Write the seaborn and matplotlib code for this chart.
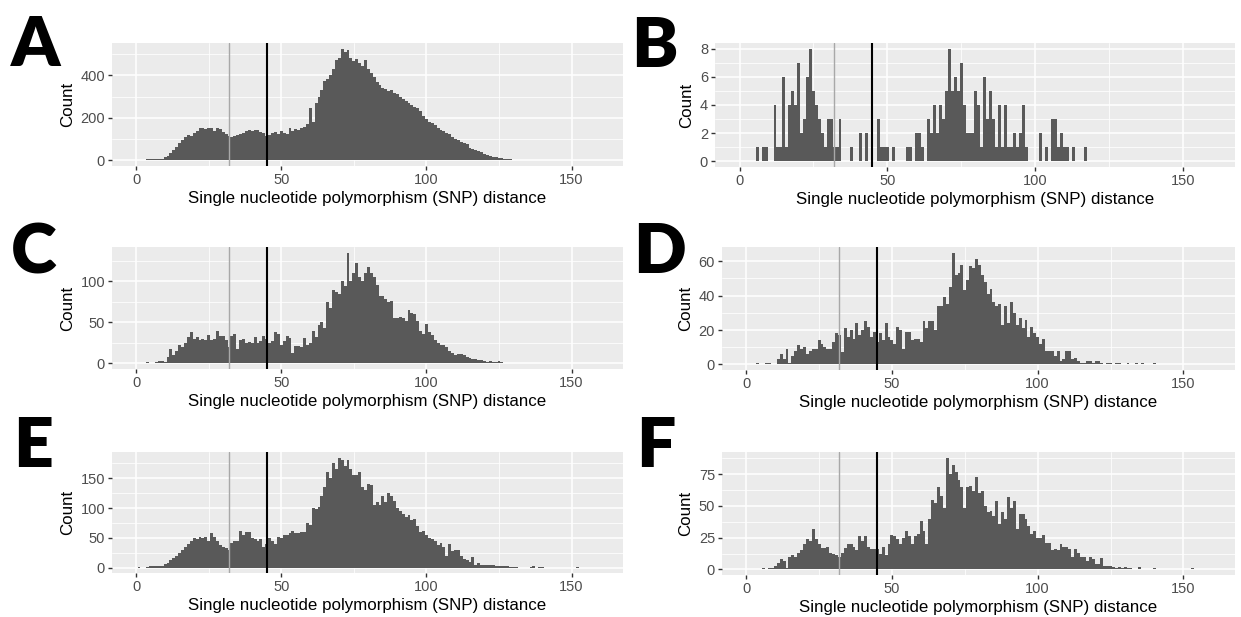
import matplotlib
matplotlib.use("Agg")
import matplotlib.pyplot as plt
import numpy as np
import seaborn as sns
from matplotlib.ticker import MultipleLocator, FixedLocator

# ---------------------------------------------------------------------------
# SNP distance histograms, six panels (A-F), one bar per integer distance.
# Each count list starts at the distance given by its *_start value.
# ---------------------------------------------------------------------------

panel_letters = ["A", "B", "C", "D", "E", "F"]
x_ticks = [0, 50, 100, 150]
gray_cut = 32
black_cut = 45

a_start = 4
a_counts = [5, 5, 5, 5, 5, 8,
            15, 20, 35, 50, 65, 80, 95, 110, 120, 115,
            130, 140, 150, 150, 148, 150, 152, 140, 152, 148,
            135, 125, 115, 110, 115, 118, 125, 130, 140, 145,
            140, 145, 142, 135, 130, 115, 120, 130, 135, 125,
            140, 130, 125, 150, 140, 148, 145, 150, 155, 170,
            245, 180, 270, 300, 330, 375, 380, 400, 430, 470,
            480, 525, 510, 520, 480, 465, 475, 455, 445, 470,
            430, 410, 390, 370, 355, 340, 335, 325, 330, 315,
            310, 300, 290, 280, 270, 260, 250, 245, 230, 210,
            195, 180, 175, 165, 150, 145, 140, 130, 125, 110,
            100, 95, 85, 80, 75, 60, 55, 50, 45, 38,
            30, 25, 20, 17, 15, 12, 10, 8, 7, 5,
            4, 3, 2, 2, 1, 1, 0, 1, 0, 1,
            0, 1]

b_start = 6
b_counts = [1, 0, 1, 1, 0, 0, 4, 1, 1, 6,
            1, 4, 5, 4, 7, 2, 3, 6, 8, 5,
            4, 3, 2, 1, 3, 3, 1, 1, 3, 0,
            0, 0, 1, 0, 0, 2, 0, 2, 0, 0,
            0, 3, 1, 1, 1, 0, 1, 0, 0, 0,
            0, 1, 1, 0, 2, 2, 1, 0, 3, 2,
            4, 2, 4, 3, 5, 8, 5, 6, 5, 7,
            4, 2, 2, 2, 5, 4, 1, 6, 3, 5,
            3, 1, 4, 1, 4, 1, 1, 2, 1, 2,
            4, 1, 0, 0, 0, 0, 2, 0, 1, 0,
            3, 3, 1, 2, 1, 1, 0, 1, 0, 0,
            0, 1]

c_start = 4
c_counts = [2, 1, 1, 2, 3, 3, 2, 8,
            18, 10, 15, 22, 20, 25, 32, 38, 30, 32,
            28, 30, 28, 35, 29, 30, 39, 33, 33, 28,
            20, 33, 36, 18, 28, 30, 25, 26, 25, 32,
            25, 27, 34, 30, 25, 27, 38, 36, 22, 27,
            33, 31, 13, 21, 21, 20, 31, 23, 25, 40,
            32, 47, 50, 43, 75, 68, 90, 87, 85, 100,
            94, 135, 100, 110, 122, 105, 100, 110, 117, 110,
            105, 95, 82, 82, 78, 75, 76, 55, 55, 56,
            55, 52, 65, 62, 60, 52, 40, 36, 48, 38,
            35, 28, 25, 22, 22, 20, 15, 13, 10, 12,
            12, 10, 8, 7, 6, 5, 4, 4, 3, 2,
            3, 2, 2, 3, 2, 1, 1, 1, 1, 0,
            1, 1, 0, 0, 0, 1, 0, 1]

d_start = 4
d_counts = [1, 0, 0, 1, 1, 0, 0,
            3, 6, 3, 9, 1, 5, 8, 11, 9, 10,
            6, 8, 9, 9, 14, 12, 10, 9, 9, 13,
            18, 17, 7, 21, 16, 20, 15, 24, 17, 20,
            25, 22, 16, 19, 13, 18, 14, 24, 16, 14,
            12, 22, 20, 9, 19, 19, 14, 15, 15, 13,
            25, 21, 25, 25, 20, 34, 34, 39, 35, 45,
            65, 52, 53, 58, 43, 49, 57, 56, 61, 58,
            52, 48, 41, 44, 36, 34, 35, 23, 34, 24,
            36, 30, 23, 27, 21, 26, 16, 22, 18, 16,
            12, 15, 8, 8, 8, 5, 8, 2, 3, 8,
            8, 3, 4, 2, 1, 1, 2, 2, 1, 2,
            2, 1, 0, 1, 1, 0, 1, 1, 0, 0,
            1, 0, 0, 1, 0, 1, 0, 0, 0, 1]

e_start = 1
e_counts = [1, 0, 0, 1, 2, 2, 3, 2, 3,
            6, 8, 12, 16, 20, 25, 30, 35, 40, 45,
            50, 48, 52, 50, 52, 45, 58, 52, 45, 38,
            35, 33, 30, 42, 45, 45, 62, 55, 60, 60,
            50, 48, 45, 48, 35, 40, 50, 45, 40, 52,
            50, 55, 55, 58, 62, 58, 58, 60, 60, 75,
            72, 100, 98, 102, 120, 135, 160, 150, 175, 165,
            185, 180, 170, 180, 165, 155, 155, 160, 135, 130,
            140, 138, 105, 110, 105, 120, 110, 125, 120, 112,
            100, 95, 90, 85, 88, 80, 82, 70, 60, 62,
            55, 50, 48, 45, 38, 42, 35, 20, 40, 28,
            30, 30, 20, 15, 12, 10, 18, 5, 8, 5,
            5, 4, 5, 4, 3, 2, 2, 2, 2, 1,
            1, 1, 0, 0, 0, 0, 1, 2, 0, 1,
            1, 0, 0, 0, 0, 0, 0, 0, 0, 0,
            0, 0, 1]

f_start = 6
f_counts = [1, 0, 1, 1,
            3, 5, 8, 7, 1, 10, 11, 10, 13, 15,
            20, 24, 22, 32, 24, 20, 17, 17, 18, 13,
            12, 11, 10, 13, 17, 20, 20, 18, 15, 26,
            22, 26, 18, 16, 16, 16, 12, 18, 11, 20,
            27, 26, 24, 20, 25, 30, 26, 20, 26, 28,
            38, 30, 20, 40, 55, 52, 65, 58, 48, 88,
            75, 82, 77, 70, 65, 48, 65, 66, 62, 73,
            60, 62, 50, 45, 46, 42, 54, 36, 45, 40,
            57, 48, 54, 32, 44, 44, 40, 34, 28, 30,
            25, 25, 27, 21, 21, 15, 16, 15, 20, 18,
            18, 16, 10, 16, 13, 10, 10, 7, 10, 8,
            4, 4, 9, 3, 3, 3, 2, 1, 2, 1,
            2, 1, 1, 0, 0, 2, 0, 0, 0, 0,
            1, 0, 0, 0, 0, 0, 0, 0, 0, 0,
            0, 0, 0, 1]

panel_data = [(a_start, a_counts), (b_start, b_counts), (c_start, c_counts),
              (d_start, d_counts), (e_start, e_counts), (f_start, f_counts)]
y_steps = [200, 2, 50, 20, 50, 25]

# ── Figure / theme ──────────────────────────────────────────────────────────
sns.set_theme(style="darkgrid", rc={
    "axes.facecolor": "#EBEBEB",
    "grid.color": "white",
    "figure.facecolor": "white",
})
plt.rcParams["font.family"] = ["Liberation Sans", "DejaVu Sans"]

W, H = 1241, 617
fig = plt.figure(figsize=(W / 100, H / 100), dpi=100)

# axes boxes in pixels: left, top, right, bottom
boxes = [
    (112, 43, 623, 166),
    (715, 43, 1235, 167),
    (112, 247, 623, 369),
    (722, 247, 1235, 370),
    (112, 452, 623, 573),
    (722, 452, 1235, 575),
]
letter_pos = [(11, 66), (631, 67), (11, 273), (633, 273), (13, 467), (636, 467)]

for i, (start, counts) in enumerate(panel_data):
    l, t, r, b = boxes[i]
    ax = fig.add_axes([l / W, 1 - b / H, (r - l) / W, (b - t) / H])
    dist = np.arange(start, start + len(counts))
    sns.histplot(x=dist, weights=counts, discrete=True, color="#595959",
                 alpha=1, linewidth=0, ax=ax)
    ax.axvline(gray_cut, color="#A8A8A8", lw=1.0)
    ax.axvline(black_cut, color="black", lw=1.5)

    top = max(counts)
    ax.set_xlim(-8.3, 167.7)
    ax.set_ylim(-0.05 * top, 1.05 * top)
    ax.xaxis.set_major_locator(FixedLocator(x_ticks))
    ax.xaxis.set_minor_locator(MultipleLocator(25))
    ax.yaxis.set_major_locator(MultipleLocator(y_steps[i]))
    ax.yaxis.set_minor_locator(MultipleLocator(y_steps[i] / 2))
    ax.grid(which="major", color="white", lw=1.1)
    ax.grid(which="minor", color="white", lw=0.55)
    ax.set_axisbelow(True)
    for s in ax.spines.values():
        s.set_visible(False)
    ax.tick_params(axis="both", which="major", length=3, width=1,
                   color="#333333", labelcolor="#4D4D4D", labelsize=10.5,
                   pad=2, bottom=True, left=True)
    ax.tick_params(axis="both", which="minor", length=0)
    ax.set_xlabel("Single nucleotide polymorphism (SNP) distance",
                  fontsize=12.2, color="black", labelpad=3)
    ax.set_ylabel("Count", fontsize=12.2, color="black", labelpad=4)

    lx, ly = letter_pos[i]
    fig.text(lx / W, 1 - ly / H, panel_letters[i], fontsize=50,
             fontweight="heavy", family=["Lato", "DejaVu Sans"],
             ha="left", va="baseline", color="black")

fig.savefig("out.png", dpi=100)
